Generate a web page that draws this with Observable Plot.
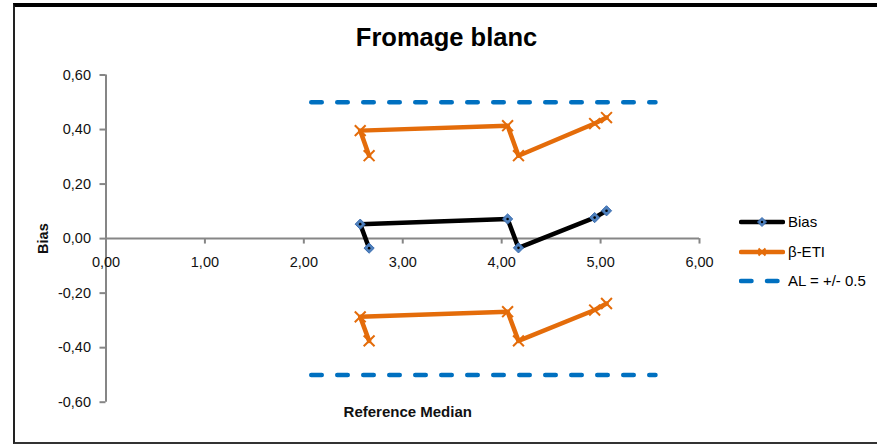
<!DOCTYPE html>
<html>
<head>
<meta charset="utf-8">
<script src="https://cdn.jsdelivr.net/npm/d3@7"></script>
<script src="https://cdn.jsdelivr.net/npm/@observablehq/plot@0.6"></script>
<style>
  html, body { margin: 0; padding: 0; background: #fff; overflow: hidden; }
  #wrap { position: relative; width: 877px; height: 445px; font-family: "Liberation Sans", Arial, sans-serif; }
  #frame { position: absolute; left: 13px; top: 3px; width: 900px; height: 441px; box-sizing: border-box;
           border-top: 4px solid #000; border-left: 2px solid #222; border-bottom: 2px solid #333; }
  #title { position: absolute; left: 446.5px; top: 25.3px; transform: translateX(-50%); font-size: 25.5px; line-height: 25px;
           font-weight: bold; color: #000; white-space: nowrap; }
  #chart { position: absolute; left: 0; top: 0; }
  #legend { position: absolute; left: 739px; top: 0; font-size: 15px; color: #000; }
  .lrow { position: absolute; left: 0; height: 14px; display: flex; align-items: center; white-space: nowrap; }
  .lrow svg { display: block; margin-right: 3px; }
  g[aria-label="y-axis label"] text { font-weight: bold; }
</style>
</head>
<body>
<div id="wrap">
  <div id="frame"></div>
  <div id="chart"></div>
  <div id="title"></div>
  <div id="legend"></div>
</div>
<script>
// ---- data ----
const chartTitle = "Fromage blanc";
const xLabel = "Reference Median";
const yLabel = "Bias";
const refMedian = [2.66, 2.57, 4.06, 4.17, 4.94, 5.06];
const bias      = [-0.035, 0.053, 0.072, -0.034, 0.077, 0.102];
const etiUpper  = [0.304, 0.396, 0.414, 0.304, 0.422, 0.444];
const etiLower  = [-0.375, -0.287, -0.268, -0.375, -0.262, -0.238];
const acceptanceLimits = [0.5, -0.5];
const alRange = [2.08, 5.56];
const xTicks = [0, 1, 2, 3, 4, 5, 6];
const yTicks = [-0.6, -0.4, -0.2, 0, 0.2, 0.4, 0.6];
const seriesNames = ["Bias", "β-ETI", "AL = +/- 0.5"];

// ---- styles ----
const cBias = "#000000", cBiasMarker = "#4F81BD", cEti = "#E46C0A", cAl = "#0070C0", cAxis = "#868686";
const fmt = d => (Math.abs(d) < 1e-9 ? 0 : d).toFixed(2).replace(".", ",");

const rows = refMedian.map((x, i) => ({x, bias: bias[i], up: etiUpper[i], lo: etiLower[i]}));

const plot = Plot.plot({
  width: 877, height: 445,
  marginLeft: 105.5, marginRight: 178, marginTop: 74.5, marginBottom: 43.3,
  x: {domain: [0, 6], axis: null},
  y: {domain: [-0.6, 0.6]},
  style: {fontFamily: "'Liberation Sans', Arial, sans-serif", fontSize: "14.5px", color: "#000", background: "transparent", overflow: "visible"},
  marks: [
    Plot.axisY({ticks: yTicks, tickFormat: fmt, tickSize: 6, tickPadding: 9, stroke: cAxis, strokeWidth: 2, strokeOpacity: 1,
                fill: "#111", label: yLabel, labelAnchor: "center", labelArrow: "none", labelOffset: 68}),
    Plot.ruleX([0], {y1: -0.6, y2: 0.6, stroke: cAxis, strokeWidth: 2}),
    Plot.ruleY([0], {x1: 0, x2: 6, stroke: cAxis, strokeWidth: 2}),
    Plot.ruleX(xTicks, {x: d => d, y1: 0, y2: -0.02, stroke: cAxis, strokeWidth: 2}),
    Plot.text(xTicks, {x: d => d, y: 0, dy: 24, text: fmt, fill: "#111"}),
    Plot.text([xLabel], {frameAnchor: "bottom", dy: 15, dx: 5, fontWeight: "bold", fontSize: 15, fill: "#111"}),
    // acceptance limits
    Plot.ruleY(acceptanceLimits, {x1: alRange[0], x2: alRange[1], stroke: cAl, strokeWidth: 4.5,
                                  strokeDasharray: "10.5,15.5", strokeLinecap: "round"}),
    // beta-ETI
    Plot.line(rows, {x: "x", y: "up", stroke: cEti, strokeWidth: 4.5, strokeLinejoin: "round"}),
    Plot.line(rows, {x: "x", y: "lo", stroke: cEti, strokeWidth: 4.5, strokeLinejoin: "round"}),
    Plot.dot(rows, {x: "x", y: "up", symbol: "times", r: 5, stroke: cEti, strokeWidth: 2}),
    Plot.dot(rows, {x: "x", y: "lo", symbol: "times", r: 5, stroke: cEti, strokeWidth: 2}),
    // bias
    Plot.line(rows, {x: "x", y: "bias", stroke: cBias, strokeWidth: 4.5, strokeLinejoin: "round"}),
    Plot.dot(rows, {x: "x", y: "bias", symbol: "diamond2", r: 4.6, fill: cBiasMarker, stroke: "#3B6DB0", strokeWidth: 1}),
    Plot.dot(rows, {x: "x", y: "bias", r: 1.3, fill: "#000"})
  ]
});
document.getElementById("chart").appendChild(plot);
document.getElementById("title").textContent = chartTitle;

// ---- legend ----
const legend = document.getElementById("legend");
const legendY = [221.7, 251.7, 280.5];
const swatches = [
  `<svg width="46" height="14"><line x1="2" y1="7" x2="44" y2="7" stroke="${cBias}" stroke-width="4.5" stroke-linecap="round"/>
     <path d="M23,2.5 L27.5,7 L23,11.5 L18.5,7 Z" fill="${cBiasMarker}" stroke="#3B6DB0"/><circle cx="23" cy="7" r="1.2" fill="#000"/></svg>`,
  `<svg width="46" height="14"><line x1="2" y1="7" x2="44" y2="7" stroke="${cEti}" stroke-width="4.5" stroke-linecap="round"/>
     <path d="M19.5,3.5 L26.5,10.5 M26.5,3.5 L19.5,10.5" stroke="${cEti}" stroke-width="2"/></svg>`,
  `<svg width="46" height="14"><line x1="2" y1="7" x2="44" y2="7" stroke="${cAl}" stroke-width="4.5" stroke-linecap="round" stroke-dasharray="10.5,15.5"/></svg>`
];
seriesNames.forEach((name, i) => {
  const row = document.createElement("div");
  row.className = "lrow";
  row.style.top = (legendY[i] - 7) + "px";
  row.innerHTML = swatches[i] + `<span>${name}</span>`;
  legend.appendChild(row);
});
</script>
</body>
</html>
